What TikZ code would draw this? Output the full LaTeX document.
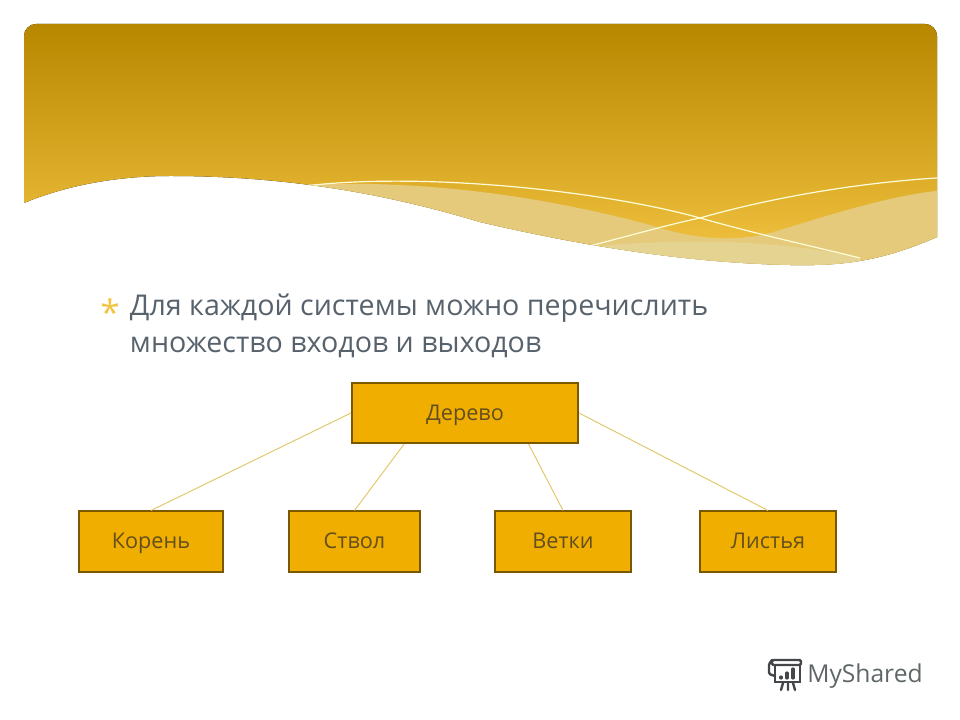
\documentclass[tikz,border=0pt]{standalone}
\usepackage{fontspec}
\setmainfont{Open Sans}
\usepackage{xcolor}
\usetikzlibrary{positioning}
\definecolor{bannertop}{RGB}{184,135,0}
\definecolor{bannerlow}{RGB}{243,196,66}
\definecolor{bandfill}{RGB}{228,202,122}
\definecolor{bandpale}{RGB}{229,211,146}
\definecolor{boxfill}{RGB}{239,174,0}
\definecolor{boxline}{RGB}{122,88,0}
\definecolor{boxtext}{RGB}{100,78,30}
\definecolor{slate}{RGB}{88,98,108}
\definecolor{linkline}{RGB}{226,200,110}
\definecolor{logogray}{RGB}{95,102,104}
\newcommand{\bannerpath}{(24,203) [rounded corners=3mm] -- (24,24) -- (937,24) -- (937,100) [sharp corners] -- (937,237)
  .. controls (880,262) and (840,266) .. (790,265)
  .. controls (700,263) and (600,250) .. (480,222)
  .. controls (400,198) and (300,176) .. (170,176)
  .. controls (110,176) and (60,188) .. (24,203) -- cycle}

\begin{document}
\begin{tikzpicture}[
  x=0.025cm, y=-0.025cm,
  part/.style={draw=boxline, line width=0.5mm, fill=boxfill, text=boxtext, font=\fontsize{15.4}{18}\selectfont,
               minimum height=1.5cm, inner sep=0pt, text height=13pt, text depth=2.4pt},
  link/.style={draw=linkline, line width=0.25mm},
  wave/.style={draw=white!85!yellow, line width=0.3mm},
]
\useasboundingbox (0,0) rectangle (960,720);

% banner
\fill[top color=bannertop, bottom color=bannerlow] \bannerpath;
\begin{scope}
  \clip \bannerpath;
  \fill[bandfill] (300,185) .. controls (400,180) and (520,190) .. (650,225)
    .. controls (690,238) and (730,243) .. (770,233) .. controls (830,215) and (890,195) .. (945,190)
    -- (945,275) -- (300,275) -- cycle;
  \fill[bandpale] (560,250) .. controls (640,240) and (760,235) .. (860,258) -- (860,275) -- (560,275) -- cycle;
  \draw[wave] (305,186) .. controls (420,172) and (600,190) .. (700,218) .. controls (760,235) and (820,248) .. (860,258);
  \draw[wave] (590,246) .. controls (650,230) and (680,222) .. (700,218) .. controls (780,195) and (870,182) .. (937,178);
\end{scope}

% text
\node[text=bannerlow, font=\fontsize{25}{27}\selectfont] (star) at (110,312) {*};
\node[anchor=west, align=left, text=slate, font=\fontsize{20.35}{26.3}\selectfont] (intro) at (125,326)
  {Для каждой системы можно перечислить\\множество входов и выходов};

% tree
\node[part, minimum width=5.65cm] (tree) at (465,413) {Дерево};
\node[part, minimum width=3.6cm] (root) at (151,541.5) {Корень};
\node[part, minimum width=3.275cm] (trunk) at (354.5,541.5) {Ствол};
\node[part, minimum width=3.4cm] (branch) at (563,541.5) {Ветки};
\node[part, minimum width=3.4cm] (leaves) at (768,541.5) {Листья};

\draw[link] (tree.west) -- (root.north);
\draw[link] (tree.-153) -- (trunk.north);
\draw[link] (tree.-26) -- (branch.north);
\draw[link] (tree.east) -- (leaves.north);

% logo
\node[anchor=west, text=logogray, inner sep=0pt, font=\fontsize{17.5}{20}\selectfont] (brand) at (807,676) {MyShared};
\begin{scope}[draw=logogray!70!black, line width=0.6mm, line cap=round]
  \draw[rounded corners=1pt] (772,660) rectangle (801,665);
  \draw[rounded corners=1pt] (772,660) -- (769,664) -- (769,674) -- (775,676);
  \draw (775,665) -- (775,682) -- (800,682) -- (800,665);
  \draw (781,690) -- (783,683) (788,690) -- (788,683) (795,690) -- (793,683);
  \draw[line width=0.8mm] (781,678) -- (781,677) (787,678) -- (787,673) (793,678) -- (793,669);
\end{scope}
\end{tikzpicture}
\end{document}
